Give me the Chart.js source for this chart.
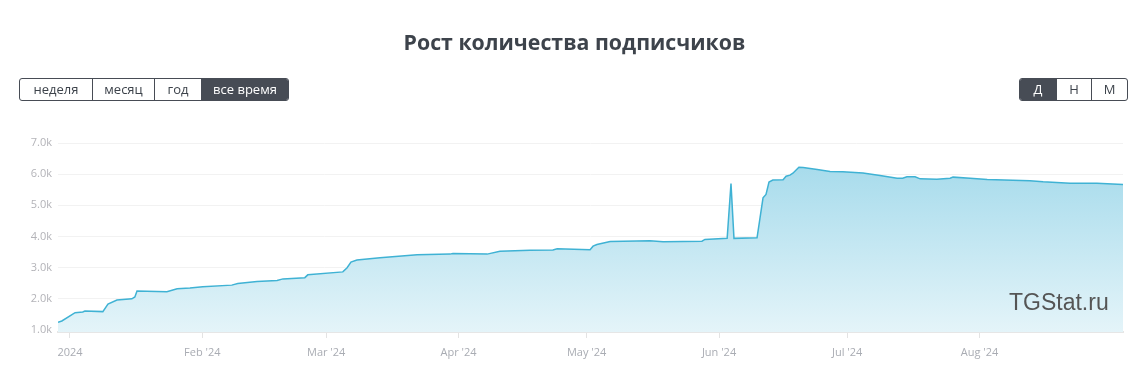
<!DOCTYPE html>
<html>
<head>
<meta charset="utf-8">
<script src="https://cdn.jsdelivr.net/npm/chart.js@4"></script>
<style>
  body { margin: 0; background: #fff; font-family: "Open Sans", sans-serif; }
  #wrap { position: relative; width: 1137px; height: 386px; overflow: hidden; }
  #chart { position: absolute; left: 0; top: 0; }
  h1 {
    position: absolute; left: 6px; width: 1137px; top: 27px; margin: 0;
    text-align: center; font-size: 21.3px; font-weight: 700; color: #3d434b;
  }
  .group {
    position: absolute; top: 78px; height: 21px; display: flex;
    border: 1px solid #474c55; border-radius: 3px; overflow: hidden;
  }
  .group span {
    display: block; height: 21px; line-height: 21px; text-align: center;
    font-size: 13px; color: #3d434b; border-left: 1px solid #474c55; box-sizing: border-box;
  }
  .group span:first-child { border-left: none; }
  .group span.on { background: #474c55; color: #fff; }
  #mark {
    position: absolute; left: 1009px; top: 291px; line-height: 23px;
    font-family: "Liberation Sans", Arial, sans-serif; font-size: 23px; color: #555;
  }
</style>
</head>
<body>
<div id="wrap">
  <canvas id="chart" width="1137" height="386"></canvas>
  <h1>Рост количества подписчиков</h1>
  <div class="group" style="left:19px;width:268px">
    <span style="width:72px">неделя</span>
    <span style="width:62px">месяц</span>
    <span style="width:47px">год</span>
    <span class="on" style="width:87px">все время</span>
  </div>
  <div class="group" style="left:1019px;width:107px">
    <span class="on" style="width:36px">Д</span>
    <span style="width:35px">Н</span>
    <span style="width:36px">М</span>
  </div>
  <div id="mark">TGStat.ru</div>
</div>
<script>
// days counted from 1 Jan 2024
const days = [-2.8, -1.9, 1.2, 3.0, 3.5, 7.7, 8.9, 11.0, 14.5, 15.2, 15.7, 22.7, 25.1, 28.1, 31.1,
  37.9, 39.3, 43.8, 48.5, 49.9, 55.0, 55.7, 63.9, 64.9, 65.8, 67.2, 72.6, 81.3, 89.0, 89.7,
  97.7, 100.7, 107.7, 113.1, 114.1, 121.8, 122.5, 123.4, 126.5, 135.8, 138.9, 148.0, 148.7,
  153.9, 154.8, 155.5, 160.9, 161.6, 162.3, 163.0, 163.7, 164.6, 167.0, 167.7, 168.6, 169.3,
  170.7, 171.7, 175.0, 178.0, 181.0, 185.7, 189.7, 193.7, 195.0, 196.0, 197.9, 199.1, 203.0,
  206.1, 206.8, 210.8, 214.8, 224.8, 227.9, 234.2, 240.5, 246.6];
const subscribers = [1250, 1290, 1555, 1577, 1610, 1590, 1830, 1960, 2000, 2060, 2250, 2230, 2320, 2345, 2390,
  2440, 2495, 2560, 2590, 2640, 2680, 2770, 2865, 3000, 3180, 3245, 3320, 3415, 3435, 3455,
  3435, 3530, 3555, 3565, 3605, 3575, 3690, 3745, 3840, 3860, 3830, 3850, 3905,
  3940, 5700, 3940, 3960, 4600, 5240, 5350, 5750, 5810, 5820, 5935, 5970, 6030,
  6225, 6215, 6150, 6085, 6075, 6040, 5960, 5870, 5870, 5915, 5915, 5850, 5840,
  5870, 5905, 5870, 5830, 5790, 5755, 5710, 5710, 5670];

const monthDays = [0, 31, 60, 91, 121, 152, 182, 213];
const monthLabels = ["2024", "Feb '24", "Mar '24", "Apr '24", "May '24", "Jun '24", "Jul '24", "Aug '24"];
const yTicks = [1000, 2000, 3000, 4000, 5000, 6000, 7000];
const yLabels = ["1.0k", "2.0k", "3.0k", "4.0k", "5.0k", "6.0k", "7.0k"];

const points = days.map((d, i) => ({ x: d, y: subscribers[i] }));

function areaFill(context) {
  const area = context.chart.chartArea;
  if (!area) return "rgba(160,217,235,0.6)";
  const g = context.chart.ctx.createLinearGradient(0, area.top, 0, area.bottom);
  g.addColorStop(0, "#9fd8ea");
  g.addColorStop(1, "#e4f4f9");
  return g;
}

new Chart(document.getElementById("chart"), {
  type: "line",
  data: {
    datasets: [{
      data: points,
      borderColor: "#3fb2d4",
      borderWidth: 1.5,
      pointRadius: 0,
      tension: 0,
      fill: "start",
      backgroundColor: areaFill,
    }],
  },
  options: {
    responsive: false,
    animation: false,
    layout: { padding: { left: 0, right: 14, top: 143, bottom: 0 } },
    plugins: { legend: { display: false }, tooltip: { enabled: false } },
    scales: {
      x: {
        type: "linear",
        min: -2.8,
        max: 246.6,
        afterBuildTicks: (scale) => { scale.ticks = monthDays.map((v) => ({ value: v })); },
        afterFit: (scale) => { scale.height = 54; },
        ticks: {
          callback: (v) => monthLabels[monthDays.indexOf(v)],
          color: "#a9acb3",
          font: { family: "Open Sans", size: 11 },
          padding: 8,
          maxRotation: 0,
          autoSkip: false,
        },
        grid: { drawOnChartArea: false, drawTicks: true, tickLength: 6, color: "#e3e3e3" },
        border: { color: "#e6e6e6", width: 2 },
      },
      y: {
        min: 936,
        max: 7000,
        afterBuildTicks: (scale) => { scale.ticks = yTicks.map((v) => ({ value: v })); },
        afterFit: (scale) => { scale.width = 58; },
        ticks: {
          callback: (v) => yLabels[yTicks.indexOf(v)],
          color: "#b3b3b8",
          font: { family: "Open Sans", size: 11 },
          padding: 6,
        },
        grid: { color: "#f2f2f2", drawTicks: false },
        border: { display: false },
      },
    },
  },
});
</script>
</body>
</html>
